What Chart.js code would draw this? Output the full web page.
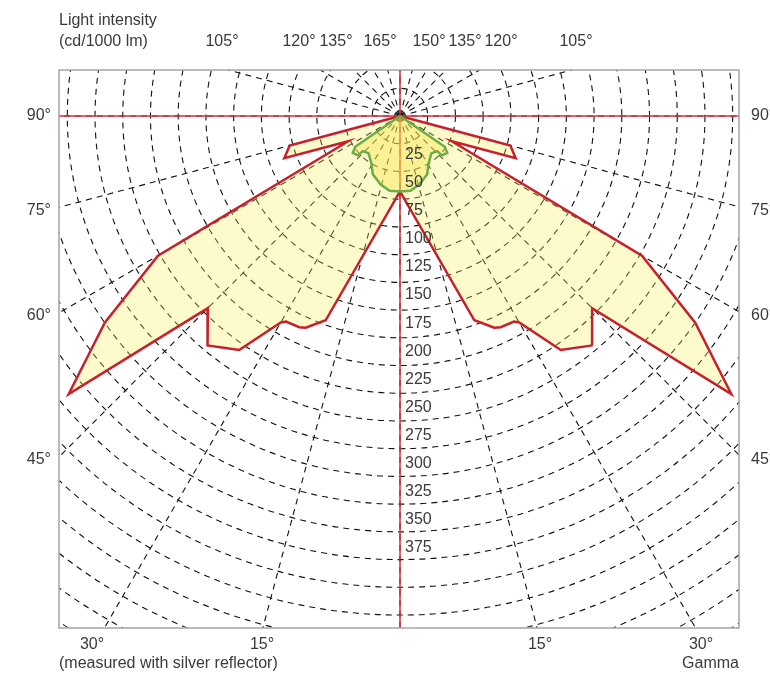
<!DOCTYPE html>
<html>
<head>
<meta charset="utf-8">
<script src="https://cdn.jsdelivr.net/npm/chart.js@4.4.1/dist/chart.umd.min.js"></script>
<style>
  html, body { margin: 0; padding: 0; background: #fff; }
  canvas { display: block; }
</style>
</head>
<body>
<canvas id="ldc" width="770" height="674"></canvas>
<script>
// gamma angle (deg from straight down) and intensity (cd/1000 lm)
const redGamma = [0, 20, 24, 25.5, 29, 30, 34.5, 40, 45, 50, 55, 60, 64, 70, 75, 90];
const redIntensity = [68, 196, 209, 211, 212, 215, 256, 270, 245, 390, 325, 252, 52, 111, 103, 0];

const greenGamma = [0, 8, 16, 25, 31, 40, 46.5, 47, 52, 55.5, 90];
const greenIntensity = [68, 68, 64, 58, 50, 44, 46, 52, 54, 49, 0];

const ringTicks = [25, 50, 75, 100, 125, 150, 175, 200, 225, 250, 275, 300, 325, 350, 375,
  400, 425, 450, 475, 500, 525, 550];
const ringLabels = [25, 50, 75, 100, 125, 150, 175, 200, 225, 250, 275, 300, 325, 350, 375];
const rayAngles = [0, 15, 30, 45, 60, 75, 90, 105, 120, 135, 150, 165, 180,
  195, 210, 225, 240, 255, 270, 285, 300, 315, 330, 345];
const sideAngles = [90, 75, 60, 45];
const topLabels = ['105°', '120°', '135°', '165°', '150°', '135°', '120°', '105°'];
const bottomLabels = ['30°', '15°', '15°', '30°'];

function polar(g, v, side) {
  const a = g * Math.PI / 180;
  return { x: side * v * Math.sin(a), y: -v * Math.cos(a) };
}

// left half from the top down to 0°, then the right half back up
function curve(gammas, values) {
  const pts = [];
  for (let i = gammas.length - 1; i >= 0; i--) pts.push(polar(gammas[i], values[i], -1));
  for (let i = 0; i < gammas.length; i++) pts.push(polar(gammas[i], values[i], 1));
  return pts;
}

const FONT = '16px "Liberation Sans", Arial, sans-serif';
const TEXT = '#3a3a3a';

const gridPlugin = {
  id: 'ldcGrid',
  beforeDatasetsDraw(chart) {
    const { ctx, chartArea: a, scales: { x, y } } = chart;
    const cx = x.getPixelForValue(0), cy = y.getPixelForValue(0);
    ctx.save();
    ctx.beginPath();
    ctx.rect(a.left, a.top, a.right - a.left, a.bottom - a.top);
    ctx.clip();

    ctx.strokeStyle = '#111';
    ctx.lineWidth = 1.1;
    ctx.setLineDash([6, 5]);
    ringTicks.forEach(v => {
      const r = x.getPixelForValue(v) - cx;
      ctx.beginPath();
      ctx.arc(cx, cy, r, 0, Math.PI * 2);
      ctx.stroke();
    });
    rayAngles.forEach(g => {
      const p = polar(g, 900, 1);
      ctx.beginPath();
      ctx.moveTo(cx, cy);
      ctx.lineTo(x.getPixelForValue(p.x), y.getPixelForValue(p.y));
      ctx.stroke();
    });

    ctx.setLineDash([]);
    ctx.strokeStyle = '#d3303a';
    ctx.lineWidth = 1.5;
    ctx.beginPath();
    ctx.moveTo(a.left, cy); ctx.lineTo(a.right, cy);
    ctx.moveTo(cx, a.top); ctx.lineTo(cx, a.bottom);
    ctx.stroke();
    ctx.restore();

    ctx.save();
    ctx.strokeStyle = '#a5a5a5';
    ctx.lineWidth = 1.5;
    ctx.strokeRect(a.left, a.top, a.right - a.left, a.bottom - a.top);
    ctx.restore();
  },
  afterDraw(chart) {
    const { ctx, chartArea: a, scales: { x, y } } = chart;
    const cx = x.getPixelForValue(0), cy = y.getPixelForValue(0);
    ctx.save();
    ctx.font = FONT;
    ctx.fillStyle = TEXT;
    ctx.textBaseline = 'middle';

    ctx.textAlign = 'left';
    ringLabels.forEach(v => {
      ctx.fillText(String(v), cx + 5, y.getPixelForValue(-v) + 10.7 + v / 75);
    });

    // side labels sit where the rays meet the frame
    const half = x.getPixelForValue(0) - x.getPixelForValue(x.min);
    sideAngles.forEach(g => {
      const a2 = g * Math.PI / 180;
      const py = cy + half * Math.cos(a2) / Math.sin(a2) + (g === 90 ? 0 : 3);
      ctx.textAlign = 'right';
      ctx.fillText(g + '°', a.left - 8, py);
      ctx.textAlign = 'left';
      ctx.fillText(g + '°', a.right + 12, py);
    });

    ctx.textAlign = 'left';
    ctx.fillText('Light intensity', a.left, 21);
    ctx.fillText('(cd/1000 lm)', a.left, 42);

    const topX = [222, 299, 336, 380, 429, 465, 501, 576];
    ctx.textAlign = 'center';
    topLabels.forEach((t, i) => ctx.fillText(t, topX[i], 42));

    const botX = [92, 262, 540, 701];
    bottomLabels.forEach((t, i) => ctx.fillText(t, botX[i], 645));

    ctx.textAlign = 'left';
    ctx.fillText('(measured with silver reflector)', a.left, 664);
    ctx.textAlign = 'right';
    ctx.fillText('Gamma', a.right, 664);
    ctx.restore();
  }
};

new Chart(document.getElementById('ldc'), {
  type: 'line',
  data: {
    datasets: [{
      label: 'C0-C180',
      data: curve(redGamma, redIntensity),
      borderColor: '#c81f2c',
      borderWidth: 2.5,
      backgroundColor: 'rgba(247, 237, 85, 0.3)',
      fill: 'shape',
      pointRadius: 0,
      tension: 0,
      order: 2
    }, {
      label: 'C90-C270',
      data: curve(greenGamma, greenIntensity),
      borderColor: '#6aae45',
      borderWidth: 2.5,
      backgroundColor: 'rgba(245, 225, 60, 0.38)',
      fill: 'shape',
      pointRadius: 0,
      tension: 0,
      order: 1
    }]
  },
  options: {
    responsive: false,
    animation: false,
    devicePixelRatio: 1,
    layout: { padding: { left: 59, right: 31, top: 70, bottom: 46 } },
    plugins: { legend: { display: false }, tooltip: { enabled: false } },
    scales: {
      x: { type: 'linear', min: -307.5, max: 305.7, display: false },
      y: { type: 'linear', min: -461.7, max: 41.5, display: false }
    }
  },
  plugins: [gridPlugin]
});
</script>
</body>
</html>
